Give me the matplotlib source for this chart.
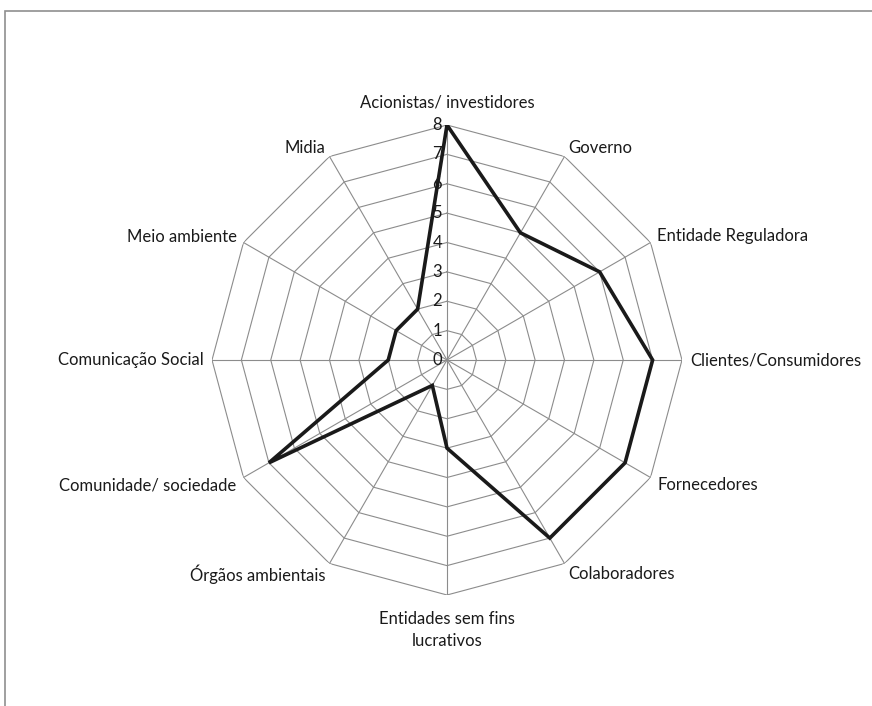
import numpy as np
import matplotlib
matplotlib.use("Agg")
import matplotlib.pyplot as plt
from matplotlib.patches import Rectangle

plt.rcParams['font.family'] = ['Lato', 'DejaVu Sans']

categories = [
    "Acionistas/ investidores", "Governo", "Entidade Reguladora",
    "Clientes/Consumidores", "Fornecedores", "Colaboradores",
    "Entidades sem fins\nlucrativos", "Órgãos ambientais",
    "Comunidade/ sociedade", "Comunicação Social", "Meio ambiente", "Midia",
]
values = [8, 5, 6, 7, 7, 7, 3, 1, 7, 2, 2, 2]
ring_levels = [0, 1, 2, 3, 4, 5, 6, 7, 8]

W, H = 872, 706
fig = plt.figure(figsize=(W / 100, H / 100), dpi=100)

# outer chart frame (right and bottom edges fall outside the canvas)
fig.add_artist(Rectangle((5 / W, -0.1), 1.2, 1 - 11 / H + 0.1,
                         transform=fig.transFigure, fill=False,
                         edgecolor="#8f8f8f", linewidth=1.2))

cx, cy, R = 447, 360, 235
ax = fig.add_axes([(cx - R) / W, (H - cy - R) / H, 2 * R / W, 2 * R / H],
                  projection="polar")
ax.set_theta_zero_location("N")
ax.set_theta_direction(-1)
ax.set_ylim(0, max(ring_levels))
ax.grid(False)
ax.spines["polar"].set_visible(False)
ax.set_xticks([])
ax.set_yticks([])
ax.patch.set_alpha(0)

n = len(categories)
angles = np.linspace(0, 2 * np.pi, n, endpoint=False)
closed = np.append(angles, angles[0])

grid_color = "#8c8c8c"
for r in ring_levels[1:]:
    ax.plot(closed, [r] * (n + 1), color=grid_color, lw=0.8, zorder=1)
for a in angles:
    ax.plot([a, a], [0, ring_levels[-1]], color=grid_color, lw=0.8, zorder=1)

ax.plot(closed, values + values[:1], color="#1a1a1a", lw=2.6, zorder=3,
        solid_joinstyle="miter")

# radial scale labels along the top spoke
for r in ring_levels:
    ax.annotate(str(r), (0, r), xytext=(-5, 0), textcoords="offset pixels",
                ha="right", va="center", fontsize=12, color="#1a1a1a",
                zorder=2)

# category labels just outside the outer ring
for a, lab in zip(angles, categories):
    s, c = np.sin(a), np.cos(a)
    if abs(s) < 1e-6:
        ha = "center"
        va = "bottom" if c > 0 else "top"
        off = (0, 14 if c > 0 else -16)
    else:
        ha = "left" if s > 0 else "right"
        va = "center"
        off = (8 * s, 8 * c - (4 if c < -0.1 else 0) + (2 if c > 0.1 else 0))
    ax.annotate(lab, (a, ring_levels[-1]), xytext=off,
                textcoords="offset pixels", ha=ha, va=va, fontsize=12,
                color="#1a1a1a", linespacing=1.45, annotation_clip=False)

fig.savefig("out.png", dpi=100)
